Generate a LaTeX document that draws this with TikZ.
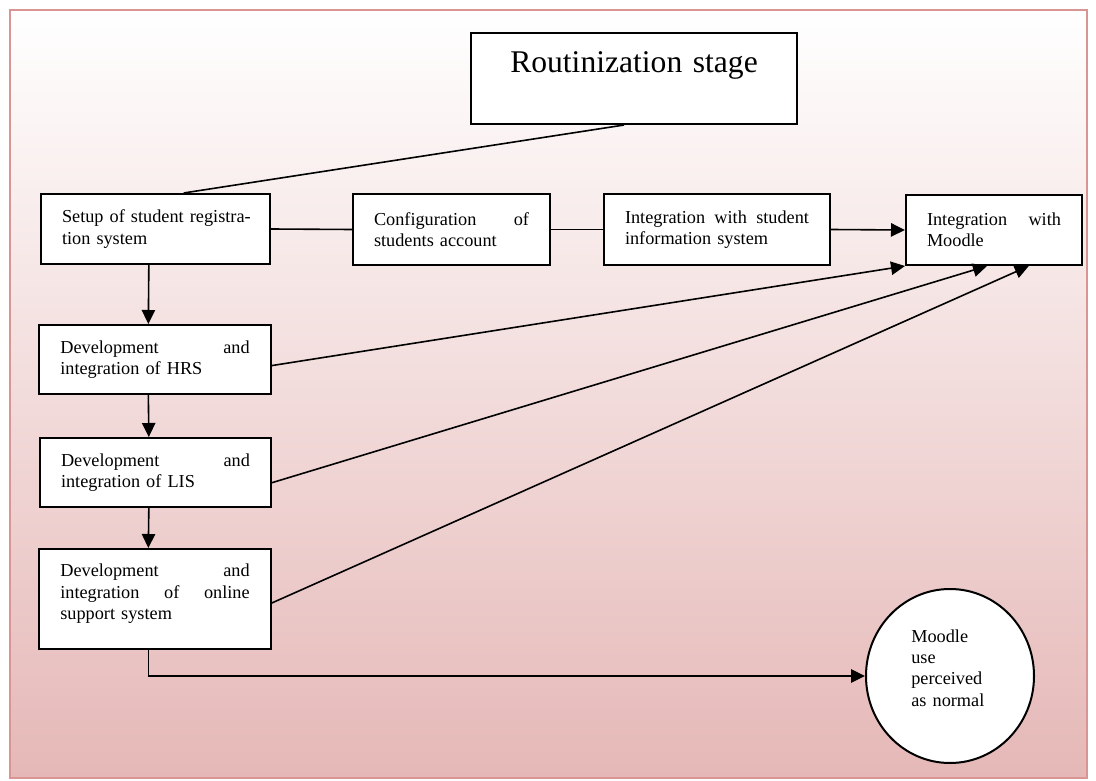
\documentclass[tikz,border=0pt]{standalone}
\usepackage{fontspec}
\setmainfont{Liberation Serif}
\usetikzlibrary{arrows.meta,shapes.geometric}

\definecolor{framepink}{RGB}{217,149,148}
\definecolor{shadepink}{RGB}{229,184,183}

\tikzset{
  stepbox/.style={draw, fill=white, line width=1.5pt, inner xsep=15.75pt, inner ysep=0pt,
    align=left, font=\fontsize{13.7}{16}\selectfont},
  link/.style={line width=1.2pt},
  arr/.style={link, -{Triangle[length=10.5pt,width=10pt]}},
}
% a justified line of given width (words spread with \hfill)
\newcommand{\fullline}[2]{\leavevmode\hbox to #1{#2}}
% extra depth below the last line, to lift the text in its box
\newcommand{\lift}[1]{\rule[-#1]{0pt}{0pt}}

\begin{document}
\begin{tikzpicture}[x=0.75pt,y=0.75pt,yscale=-1,xscale=1]
\useasboundingbox (0,0) rectangle (1096,781);

%Shape: Frame with shading
\path [draw=framepink, line width=2pt, top color=white, bottom color=shadepink] (10,10) rectangle (1087,778);

%Shape: Rectangle
\node (stage) at (634,78.5) [stepbox, align=center, inner xsep=10pt, text width=224.5pt, minimum height=68.25pt,
  font=\fontsize{23.7}{28}\selectfont] {Routinization stage\lift{25pt}};
%Shape: Rectangle
\node (setup) at (155.5,229) [stepbox, text width=140.25pt, minimum height=52.5pt]
  {\fullline{140.25pt}{Setup of student registra-\hfill}\\ tion system};
%Shape: Rectangle
\node (config) at (451.5,229.5) [stepbox, text width=116.25pt, minimum height=53.25pt]
  {\fullline{116.25pt}{Configuration \hfill of}\\ students account};
%Shape: Rectangle
\node (sisint) at (717,229.5) [stepbox, text width=138pt, minimum height=53.25pt]
  {\fullline{138pt}{Integration\hfill\ with\hfill\ student}\\ information system};
%Shape: Rectangle
\node (moodleint) at (994,230) [stepbox, text width=100.5pt, minimum height=52.5pt]
  {\fullline{100.5pt}{Integration \hfill with}\\ Moodle};
%Shape: Rectangle
\node (hrs) at (155,359.5) [stepbox, text width=142pt, minimum height=51.75pt]
  {\fullline{142pt}{Development \hfill and}\\ integration of HRS};
%Shape: Rectangle
\node (lis) at (155.5,472.5) [stepbox, text width=141.75pt, minimum height=51.75pt]
  {\fullline{141.75pt}{Development \hfill and}\\ integration of LIS};
%Shape: Rectangle
\node (online) at (155,599) [stepbox, text width=142pt, minimum height=75pt]
  {\fullline{142pt}{Development \hfill and}\\ \fullline{142pt}{integration \hfill of \hfill online}\\ support system\lift{11pt}};
%Shape: Circle
\node (normal) at (950,676) [draw, fill=white, ellipse, line width=1.5pt, minimum width=126pt, minimum height=130.5pt,
  inner sep=0pt, text width=58pt, align=left, font=\fontsize{13.7}{16}\selectfont]
  {Moodle\\ use\\ perceived\\ \mbox{as normal}\lift{12.5pt}};

%Straight Lines
\draw [link] (stage.258) -- (setup.52);
\draw [link] (setup.east) -- (config.west);
\draw [link] (config.east) -- (sisint.west);
\draw [arr] (sisint.east) -- (moodleint.west);
%Straight Lines
\draw [arr] ([xshift=-5pt]setup.south) -- ([xshift=-5pt]hrs.north);
\draw [arr] ([xshift=-5pt]hrs.south) -- ([xshift=-5pt]lis.north);
\draw [arr] ([xshift=-5pt]lis.south) -- ([xshift=-5pt]online.north);
%Straight Lines
\draw [arr] (hrs.-3) -- (moodleint.south west);
\draw [arr] (lis.-5) -- (moodleint.259);
\draw [arr] (online.-2) -- (moodleint.314);
\draw [arr] ([xshift=-5pt]online.south) |- (normal.west);

\end{tikzpicture}
\end{document}
